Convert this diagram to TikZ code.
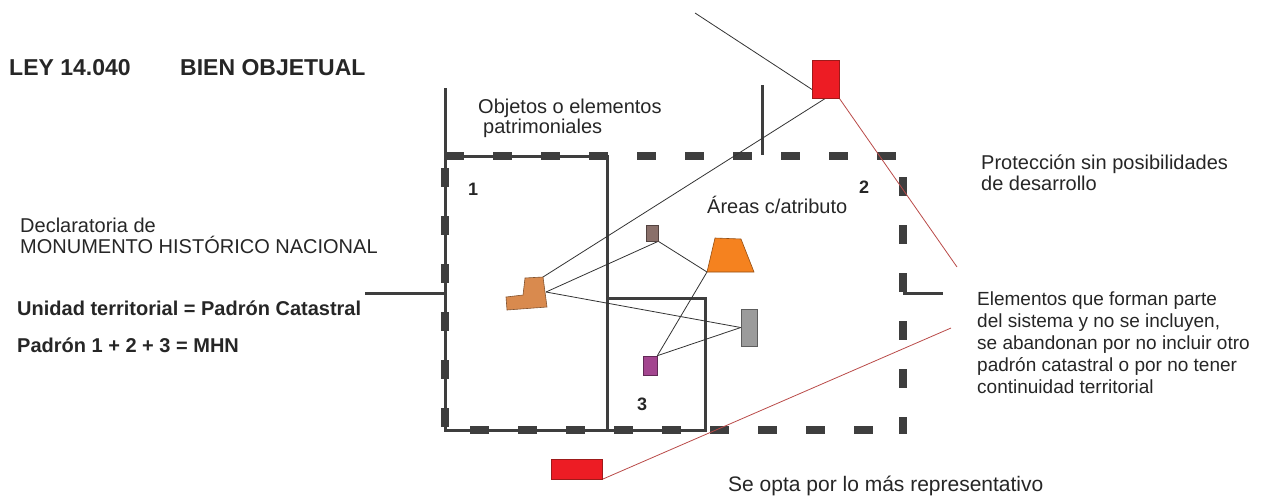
\documentclass[tikz,border=0pt]{standalone}
\usepackage{fontspec}
\setmainfont{Liberation Sans}
\usetikzlibrary{backgrounds}
\definecolor{frame}{HTML}{3E3E3E}
\definecolor{redfill}{HTML}{ED1C24}
\definecolor{rededge}{HTML}{9E1A1A}
\definecolor{redline}{HTML}{B94A48}
\definecolor{lorange}{HTML}{D98A4E}
\definecolor{torange}{HTML}{F5821F}
\definecolor{brownbox}{HTML}{8A706A}
\definecolor{magbox}{HTML}{A3458F}
\definecolor{graybox}{HTML}{9B9B9B}
\begin{document}
\begin{tikzpicture}[x=1pt, y=-1pt,
    solidedge/.style={frame, line width=3pt},
    dashedge/.style={frame, line width=8pt, dash pattern=on 19pt off 29pt},
    link/.style={black!80, line width=0.8pt},
    redlink/.style={redline, line width=0.8pt},
    obj/.style={draw, inner sep=0pt, line width=0.6pt},
    txt/.style={anchor=base west, inner sep=0pt, align=left,
      font=\fontsize{20}{22}\selectfont, text=black!85},
    txtb/.style={txt, font=\fontsize{20}{22}\selectfont\bfseries},
    num/.style={txt, font=\fontsize{18}{20}\selectfont\bfseries}]
  \useasboundingbox (0,0) rectangle (1268,496);

  % objetos patrimoniales
  \coordinate (Ltop) at (543,277);
  \coordinate (Lside) at (546,292);
  \coordinate (Tfoot) at (707,272);
  \draw[obj, draw=lorange!60!black, fill=lorange] (506,297) -- (523,295) -- (525,278)
    -- (Ltop) -- (547,307) -- (507,310) -- cycle;
  \draw[obj, draw=torange!60!black, fill=torange] (Tfoot) -- (754,272) -- (741,239)
    -- (715,238) -- cycle;
  \node[obj, draw=brownbox!60!black, fill=brownbox, minimum width=12pt, minimum height=16pt] (brown) at (652,233) {};
  \node[obj, draw=magbox!60!black, fill=magbox, minimum width=14pt, minimum height=19pt] (mag) at (650,365.5) {};
  \node[obj, draw=graybox!60!black, fill=graybox, minimum width=16pt, minimum height=37pt] (gray) at (749,327.5) {};
  \node[obj, draw=rededge, fill=redfill, minimum width=27pt, minimum height=38pt] (redtop) at (825.5,79) {};
  \node[obj, draw=rededge, fill=redfill, minimum width=51pt, minimum height=20pt] (redbot) at (576.5,469) {};

  \coordinate (far) at (695,13);
  \coordinate (redend1) at (957,267);
  \coordinate (redend2) at (951,328);

  \begin{scope}[on background layer]
    % padrones 1 y 3
    \draw[solidedge] (445,88) -- (445,430) -- (705,430) -- (705,298) -- (607,298);
    \draw[solidedge] (445,156) -- (607,156) -- (607,430);
    \draw[solidedge] (762,85) -- (762,155);
    \draw[solidedge] (365,293) -- (445,293);
    \draw[solidedge] (903,293) -- (943,293);
    % padron 2
    \draw[dashedge] (445,156) -- (896,156);
    \draw[dashedge] (445,168) -- (445,430);
    \draw[dashedge] (903,177) -- (903,434);
    \draw[dashedge] (470,430) -- (880,430);
    % vinculos
    \draw[link] (far) -- (redtop.south);
    \draw[link] (Ltop) -- (redtop.south);
    \draw[link] (Lside) -- (brown.south east);
    \draw[link] (brown.south east) -- (Tfoot);
    \draw[link] (Tfoot) -- (mag.north east);
    \draw[link] (Lside) -- (gray.west);
    \draw[link] (mag.north east) -- (gray.west);
    \draw[redlink] (redtop.south east) -- (redend1);
    \draw[redlink] (redbot.south east) -- (redend2);
  \end{scope}

  % textos
  \node[txtb, font=\fontsize{23}{25}\selectfont\bfseries] (ley) at (9,75) {LEY 14.040};
  \node[txtb, font=\fontsize{23}{25}\selectfont\bfseries] (bien) at (180,75) {BIEN OBJETUAL};
  \node[txt, font=\fontsize{20}{21}\selectfont] (decl) at (20,253) {Declaratoria de\\MONUMENTO HISTÓRICO NACIONAL};
  \node[txtb] (unidad) at (17,315) {Unidad territorial = Padrón Catastral};
  \node[txtb] (padron) at (17,352) {Padrón 1 + 2 + 3 = MHN};
  \node[txt, font=\fontsize{20}{20}\selectfont] (objetos) at (478,133) {Objetos o elementos\\\hspace*{5pt}patrimoniales};
  \node[num] (n1) at (468,195) {1};
  \node[num] (n2) at (859,193) {2};
  \node[num] (n3) at (637,410) {3};
  \node[txt] (areas) at (707,213) {Áreas c/atributo};
  \node[txt, font=\fontsize{20}{21}\selectfont] (proteccion) at (981,190) {Protección sin posibilidades\\de desarrollo};
  \node[txt, font=\fontsize{19}{22}\selectfont] (elementos) at (977,393) {Elementos que forman parte\\del sistema y no se incluyen,\\se abandonan por no incluir otro\\padrón catastral o por no tener\\continuidad territorial};
  \node[txt, font=\fontsize{21}{22}\selectfont] (opta) at (728,491) {Se opta por lo más representativo};
\end{tikzpicture}
\end{document}
